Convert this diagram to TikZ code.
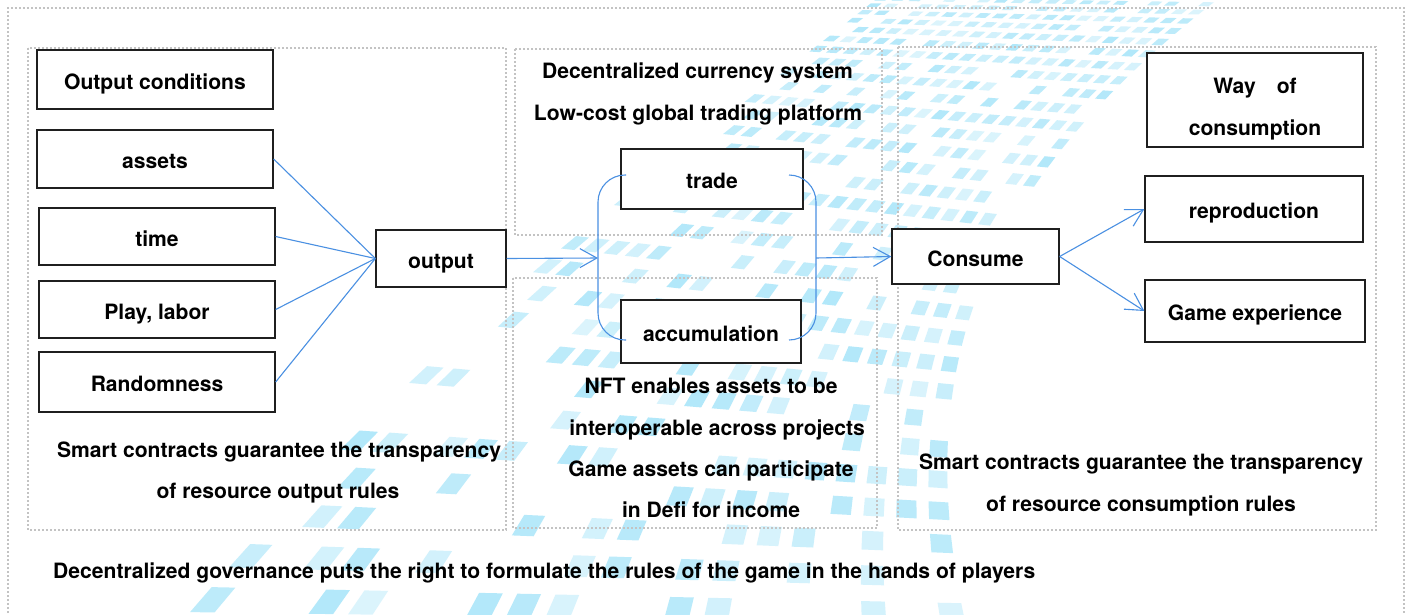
\documentclass[tikz,border=0pt]{standalone}
\usepackage{fontspec}
\setmainfont{TeX Gyre Heros}
\usetikzlibrary{arrows.meta}
\definecolor{linkblue}{RGB}{74,144,226}
\definecolor{tilecyan}{RGB}{178,232,250}
\definecolor{framegray}{RGB}{195,195,195}
\tikzset{
  lbl/.style={font=\bfseries\fontsize{21.1}{24}\selectfont, inner sep=0pt, anchor=base},
  box/.style={draw=black!88, line width=1.3pt, fill=white, inner sep=0pt,
    font=\bfseries\fontsize{21.1}{24}\selectfont, text height=19pt, text depth=0pt},
  frame/.style={draw=framegray, line width=1.6pt, dash pattern=on 1.6pt off 2.4pt},
  link/.style={draw=linkblue, line width=1.1pt},
  arr/.style={link, -{Straight Barb[length=17pt,width=19pt,line width=1.1pt]}}
}
\begin{document}
\begin{tikzpicture}[x=1pt,y=-1pt,
  declare function={
    bzx(\u,\v)=(1-\u)*(1-\u)*(1-\u)*(150+840*\v)+3*(1-\u)*(1-\u)*\u*(420+500*\v)
              +3*(1-\u)*\u*\u*(690+260*\v)+\u*\u*\u*(900+350*\v);
    bzy(\u,\v)=(1-\u)*(1-\u)*(1-\u)*660+3*(1-\u)*(1-\u)*\u*(330+80*\v)
              +3*(1-\u)*\u*\u*(150+50*\v)+\u*\u*\u*(-20);
  }]
\useasboundingbox (0,0) rectangle (1412,614);
\fill[white] (0,0) rectangle (1412,614);

% light perspective mesh in the background
\pgfmathsetseed{12}
\begin{scope}
  \clip (0,0) rectangle (1412,614);
  \foreach \k in {0,...,35}{
    \foreach \j in {0,...,19}{
      \pgfmathsetmacro\ua{1-(1-\k/36)^1.8}
      \pgfmathsetmacro\ub{1-(1-(\k+0.55)/36)^1.8}
      \pgfmathsetmacro\va{\j/20}
      \pgfmathsetmacro\vb{(\j+0.62)/20}
      \pgfmathsetmacro\rr{rnd}
      \pgfmathsetmacro\lim{0.3-0.3*\k/36+0.4*(1-\j/20)*(1-\k/36)}
      \pgfmathsetmacro\al{0.45+0.55*rnd}
      \ifdim\rr pt>\lim pt
        \fill[tilecyan, opacity=\al]
          ({bzx(\ua,\va)},{bzy(\ua,\va)}) -- ({bzx(\ub,\va)},{bzy(\ub,\va)})
          -- ({bzx(\ub,\vb)},{bzy(\ub,\vb)}) -- ({bzx(\ua,\vb)},{bzy(\ua,\vb)}) -- cycle;
      \fi
    }
  }
\end{scope}

% dotted panels
\draw[frame] (8,625) -- (8,8) -- (1404,8) -- (1404,625);
\draw[frame] (28,48) rectangle (506,530);
\draw[frame] (515,49) rectangle (882,235);
\draw[frame] (513,278) rectangle (877,528);
\draw[frame] (898,47) rectangle (1376,530);

% output side
\node[box, minimum width=236pt, minimum height=59pt] (oc) at (155,79.5) {Output conditions};
\node[box, minimum width=236pt, minimum height=58pt] (assets) at (155,159) {assets};
\node[box, minimum width=236pt, minimum height=57pt] (time) at (157,236.5) {time};
\node[box, minimum width=236pt, minimum height=57pt] (play) at (157,309.5) {Play, labor};
\node[box, minimum width=236pt, minimum height=60pt] (rand) at (157,382) {Randomness};
\node[box, minimum width=130pt, minimum height=57pt] (output) at (441,258.5) {output};

% circulation
\node[box, minimum width=182pt, minimum height=60pt] (trade) at (712,179) {trade};
\node[box, minimum width=180pt, minimum height=63pt] (accum) at (711,331.5) {accumulation};

% consumption side
\node[box, minimum width=167pt, minimum height=55pt] (consume) at (975.5,256.5) {Consume};
\node[box, minimum width=216pt, minimum height=94pt] (way) at (1255,100) {};
\node[lbl] (way1) at (1255,93) {Way\hspace{21pt}of};
\node[lbl] (way2) at (1255,135) {consumption};
\node[box, minimum width=218pt, minimum height=66pt] (repro) at (1254,209) {reproduction};
\node[box, minimum width=220pt, minimum height=62pt] (game) at (1255,311) {Game experience};

% connectors
\draw[link] (assets.east) -- (output.west);
\draw[link] (time.east) -- (output.west);
\draw[link] (play.east) -- (output.west);
\draw[link] (rand.east) -- (output.west);

\coordinate (bl) at (598,258);
\coordinate (br) at (816,258);
\draw[link, rounded corners=27pt] (626,175) -- (598,175) -- (598,340) -- (626,340);
\draw[link, rounded corners=27pt] (789,175) -- (816,175) -- (816,340) -- (789,340);
\draw[arr] (output.east) -- (bl);
\draw[arr] (br) -- (consume.west);
\draw[arr] (consume.east) -- (repro.west);
\draw[arr] (consume.east) -- (game.west);

% captions
\node[lbl] (mt1) at (697.5,78) {Decentralized currency system};
\node[lbl] (mt2) at (698,120) {Low-cost global trading platform};
\node[lbl] (ls1) at (279,457) {Smart contracts guarantee the transparency};
\node[lbl] (ls2) at (278,498) {of resource output rules};
\node[lbl] (n1) at (711,393) {NFT enables assets to be};
\node[lbl] (n2) at (717,435) {interoperable across projects};
\node[lbl] (n3) at (711,476) {Game assets can participate};
\node[lbl] (n4) at (711,517) {in Defi for income};
\node[lbl] (rs1) at (1141,469) {Smart contracts guarantee the transparency};
\node[lbl] (rs2) at (1141,511) {of resource consumption rules};
\node[lbl, anchor=base west] (gov) at (53,578) {Decentralized governance puts the right to formulate the rules of the game in the hands of players};
\end{tikzpicture}
\end{document}
